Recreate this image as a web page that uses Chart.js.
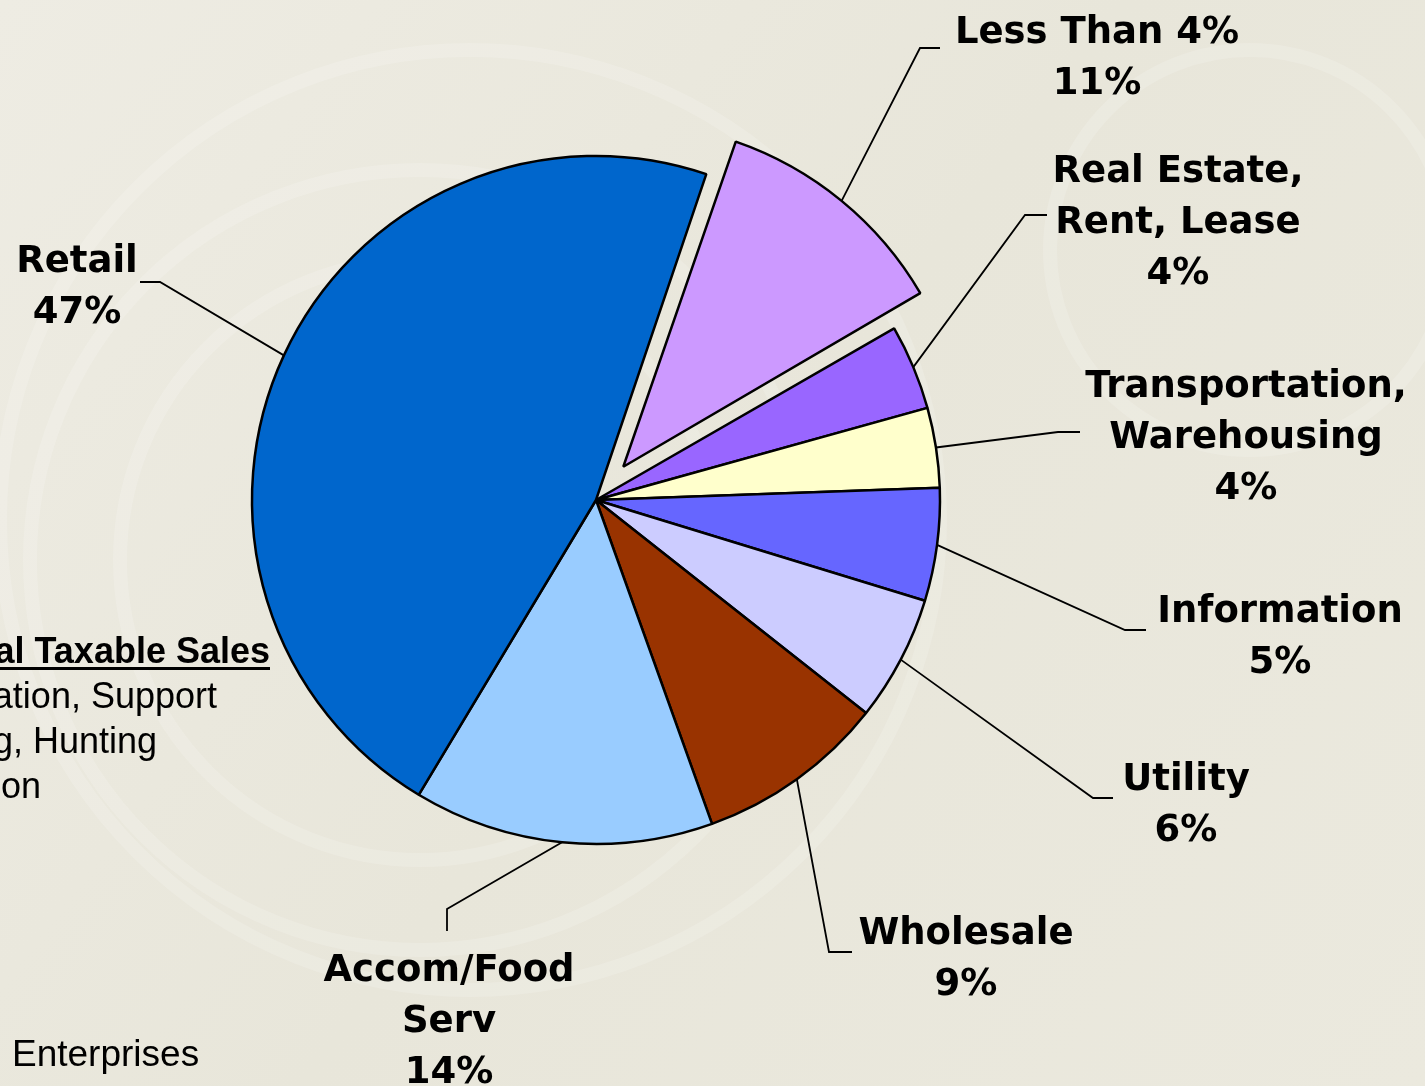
<!DOCTYPE html>
<html>
<head>
<meta charset="utf-8">
<title>Taxable Sales by Industry</title>
<script src="https://cdn.jsdelivr.net/npm/chart.js@4.4.1/dist/chart.umd.min.js"></script>
<style>
  html, body { margin: 0; padding: 0; background: #ebe9df; overflow: hidden; }
  #wrap { width: 1425px; height: 1086px; position: relative; }
</style>
</head>
<body>
<div id="wrap"><canvas id="pie-chart"></canvas></div>
<script>
// slices, clockwise from the exploded one
const categories = [
  ['Less Than 4%'],
  ['Real Estate,', 'Rent, Lease'],
  ['Transportation,', 'Warehousing'],
  ['Information'],
  ['Utility'],
  ['Wholesale'],
  ['Accom/Food', 'Serv'],
  ['Retail']
];
const shares = [11.5, 4.0, 3.75, 5.3, 5.9, 8.9, 14.1, 46.6];
const pctLabels = ['11%', '4%', '4%', '5%', '6%', '9%', '14%', '47%'];

const sliceColors = ['#cc99ff', '#9966ff', '#ffffcc', '#6666ff', '#ccccff', '#993300', '#99ccff', '#0066cc'];
const pullOut = [43, 0, 0, 0, 0, 0, 0, 0];   // px the slice is pulled away from the centre
const PIE_R = 344;

// where each label sits: elbow of the leader, end of the leader, text centre x, first baseline
const labelPos = [
  { elbow: [920, 48],  end: [940, 48],   cx: 1097, y: 43 },
  { elbow: [1025, 215], end: [1047, 215], cx: 1178, y: 182 },
  { elbow: [1058, 432], end: [1080, 432], cx: 1246, y: 397 },
  { elbow: [1125, 630], end: [1146, 630], cx: 1280, y: 622 },
  { elbow: [1093, 798], end: [1113, 798], cx: 1186, y: 790 },
  { elbow: [829, 952],  end: [852, 952],  cx: 966,  y: 944 },
  { elbow: [447, 909],  end: [447, 931],  cx: 449,  y: 981 },
  { elbow: [160, 282],  end: [140, 282],  cx: 77,   y: 272 }
];

// text box on the left, cut off by the slide edge
const sideNotes = [
  { text: 'al Taxable Sales', right: 270, y: 663, bold: true, underline: true },
  { text: 'ation, Support', right: 217, y: 708 },
  { text: 'g, Hunting', right: 157, y: 753 },
  { text: 'on', right: 41, y: 798 }
];

const backdrop = {
  id: 'backdrop',
  beforeDraw(chart) {
    const c = chart.ctx, w = chart.width, h = chart.height;
    c.save();
    const g = c.createLinearGradient(0, 0, w, h);
    g.addColorStop(0, '#eeece3');
    g.addColorStop(0.5, '#e8e6da');
    g.addColorStop(1, '#ebe9de');
    c.fillStyle = g;
    c.fillRect(0, 0, w, h);
    // faint swirl
    c.strokeStyle = 'rgba(255,255,255,0.16)';
    c.lineWidth = 14;
    [[420, 560, 300], [420, 560, 390], [470, 520, 470], [1250, 250, 200]].forEach(function(a) {
      c.beginPath();
      c.arc(a[0], a[1], a[2], 0, Math.PI * 2);
      c.stroke();
    });
    c.restore();
  }
};

// Chart.js moves an offset arc by offset/4 and also grows it; undo the growth
const keepRadius = {
  id: 'keepRadius',
  afterDatasetUpdate(chart) {
    chart.getDatasetMeta(0).data.forEach(function(arc, i) {
      const t = pullOut[i];
      const circ = arc.endAngle - arc.startAngle;
      const fix = 1 - Math.sin(Math.min(Math.PI, circ));
      arc.outerRadius = PIE_R - t * fix;
    });
  }
};

const sliceLabels = {
  id: 'sliceLabels',
  afterDatasetsDraw(chart) {
    const c = chart.ctx;
    const arcs = chart.getDatasetMeta(0).data;
    c.save();
    c.strokeStyle = '#000';
    c.lineWidth = 1.8;
    c.fillStyle = '#000';
    c.font = 'bold 37px "DejaVu Sans", Verdana, sans-serif';
    c.textAlign = 'center';
    c.textBaseline = 'alphabetic';
    arcs.forEach(function(arc, i) {
      const p = arc.getProps(['x', 'y', 'startAngle', 'endAngle'], true);
      const mid = (p.startAngle + p.endAngle) / 2;
      const r = PIE_R + pullOut[i];
      const L = labelPos[i];
      c.beginPath();
      c.moveTo(p.x + Math.cos(mid) * r, p.y + Math.sin(mid) * r);
      c.lineTo(L.elbow[0], L.elbow[1]);
      c.lineTo(L.end[0], L.end[1]);
      c.stroke();
      const lines = categories[i].concat([pctLabels[i]]);
      lines.forEach(function(t, k) {
        c.fillText(t, L.cx, L.y + k * 51);
      });
    });

    c.textAlign = 'right';
    sideNotes.forEach(function(n) {
      c.font = (n.bold ? 'bold ' : '') + '36px "Liberation Sans", Arial, sans-serif';
      c.fillText(n.text, n.right, n.y);
      if (n.underline) c.fillRect(0, n.y + 4, n.right, 3);
    });
    c.textAlign = 'left';
    c.font = '37px "Liberation Sans", Arial, sans-serif';
    c.fillText('Enterprises', 12, 1066);
    c.restore();
  }
};

const ctx = document.getElementById('pie-chart');
new Chart(ctx, {
  type: 'pie',
  data: {
    labels: categories.map(function(l) { return l.join(' '); }),
    datasets: [{
      data: shares,
      backgroundColor: sliceColors,
      borderColor: '#000',
      borderWidth: 2.5,
      offset: pullOut.map(function(v) { return v * 4; })
    }]
  },
  options: {
    responsive: true,
    maintainAspectRatio: false,
    animation: false,
    radius: PIE_R,
    rotation: 18.7,
    layout: { padding: { left: 0, right: 233, top: 0, bottom: 86 } },
    plugins: {
      legend: { display: false },
      tooltip: { enabled: false }
    }
  },
  plugins: [backdrop, keepRadius, sliceLabels]
});
</script>
</body>
</html>
